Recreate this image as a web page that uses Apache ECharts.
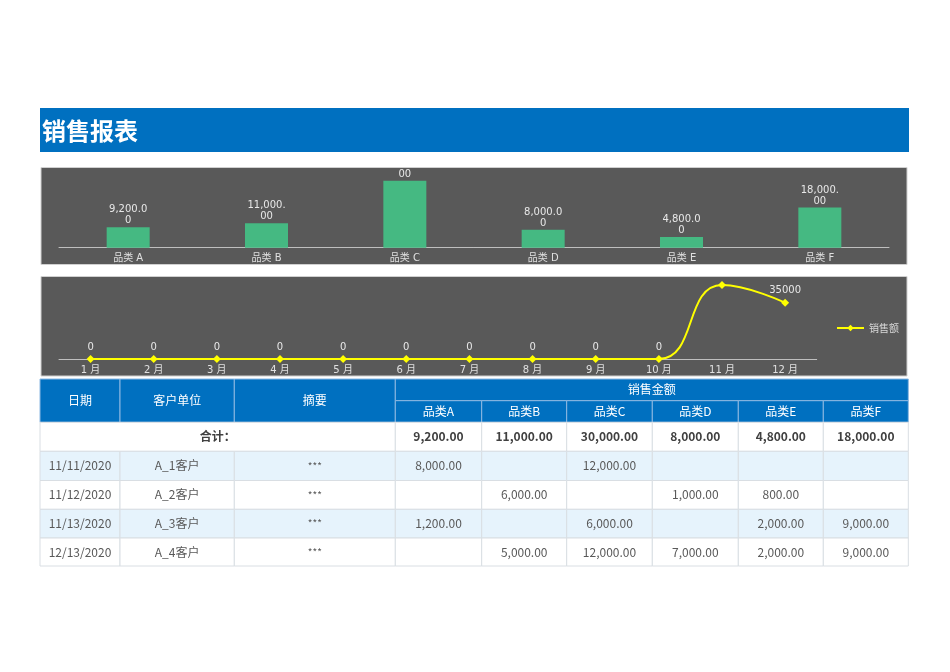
<!DOCTYPE html>
<html>
<head>
<meta charset="utf-8">
<script src="https://cdn.jsdelivr.net/npm/echarts@6/dist/echarts.min.js"></script>
<style>
html,body{margin:0;padding:0;background:#fff;}
#c{width:950px;height:672px;}
</style>
</head>
<body>
<div id="c"></div>
<script>
// ---- data ----
var title = '销售报表';
var barCategories = ['品类 A', '品类 B', '品类 C', '品类 D', '品类 E', '品类 F'];
var categoryTotals = [9200, 11000, 30000, 8000, 4800, 18000];
var months = ['1 月', '2 月', '3 月', '4 月', '5 月', '6 月', '7 月', '8 月', '9 月', '10 月', '11 月', '12 月'];
var monthlySales = [0, 0, 0, 0, 0, 0, 0, 0, 0, 0, 46000, 35000];
var lineSeriesName = '销售额';
var headerFixed = ['日期', '客户单位', '摘要'];
var headerGroup = '销售金额';
var tableCategories = ['品类A', '品类B', '品类C', '品类D', '品类E', '品类F'];
var totalLabel = '合计：';
var dates = ['11/11/2020', '11/12/2020', '11/13/2020', '12/13/2020'];
var customers = ['A_1客户', 'A_2客户', 'A_3客户', 'A_4客户'];
var summaries = ['***', '***', '***', '***'];
var rowA = [8000, null, 1200, null];
var rowB = [null, 6000, null, 5000];
var rowC = [12000, null, 6000, 12000];
var rowD = [null, 1000, null, 7000];
var rowE = [null, 800, 2000, 2000];
var rowF = [null, null, 9000, 9000];

// ---- helpers ----
function fmt2(v) {
  return v.toLocaleString('en-US', {minimumFractionDigits: 2, maximumFractionDigits: 2});
}
function wrap7(s) {
  var out = [];
  for (var i = 0; i < s.length; i += 7) out.push(s.slice(i, i + 7));
  return out.join('\n');
}

var CJK = '"Noto Sans CJK SC", "Microsoft YaHei", sans-serif';
var CHARTFONT = '"DejaVu Sans", "Noto Sans CJK SC", sans-serif';

var g = [];
// title bar
g.push({type: 'rect', z: -10, shape: {x: 40, y: 108, width: 869, height: 44}, style: {fill: '#0070C0'}});
g.push({type: 'text', z: -9, x: 42, y: 131, style: {text: title, fill: '#fff', font: 'bold 24px ' + CJK, textVerticalAlign: 'middle'}});
// chart panels
g.push({type: 'rect', z: -10, shape: {x: 41, y: 167.5, width: 866, height: 97}, style: {fill: '#595959', stroke: '#D0D0D0', lineWidth: 1}});
g.push({type: 'rect', z: -10, shape: {x: 41, y: 276.5, width: 866, height: 99.5}, style: {fill: '#595959', stroke: '#D0D0D0', lineWidth: 1}});
// cover gaps (clip labels outside panels)
g.push({type: 'rect', z: 100, shape: {x: 30, y: 152.5, width: 890, height: 14.5}, style: {fill: '#fff'}});
g.push({type: 'rect', z: 100, shape: {x: 30, y: 265, width: 890, height: 11}, style: {fill: '#fff'}});

// ---- table ----
var colX = [40, 120, 234.3, 395.3, 481.7, 566.7, 652.3, 738.3, 823.3, 908.3];
var rowY = [379, 400.7, 422.3, 451.3, 480.5, 509.3, 538, 566];
function cell(x0, x1, y0, y1, fill, stroke, text, color, font) {
  g.push({type: 'rect', z: -5, shape: {x: x0, y: y0, width: x1 - x0, height: y1 - y0}, style: {fill: fill, stroke: stroke, lineWidth: 1}});
  if (text !== null && text !== undefined && text !== '') {
    g.push({type: 'text', z: -4, x: (x0 + x1) / 2, y: (y0 + y1) / 2, style: {text: text, fill: color, font: font, textAlign: 'center', textVerticalAlign: 'middle'}});
  }
}
var HB = '#0070C0', HS = '#8DB8E2';
for (var i = 0; i < 3; i++) cell(colX[i], colX[i + 1], rowY[0], rowY[2], HB, HS, headerFixed[i], '#fff', '12px ' + CJK);
cell(colX[3], colX[9], rowY[0], rowY[1], HB, HS, headerGroup, '#fff', '12px ' + CJK);
for (var j = 0; j < 6; j++) cell(colX[3 + j], colX[4 + j], rowY[1], rowY[2], HB, HS, tableCategories[j], '#fff', '12px ' + CJK);
var GS = '#D9DEE3';
cell(colX[0], colX[3], rowY[2], rowY[3], '#fff', GS, totalLabel, '#404040', 'bold 12px ' + CJK);
for (var j = 0; j < 6; j++) cell(colX[3 + j], colX[4 + j], rowY[2], rowY[3], '#fff', GS, fmt2(categoryTotals[j]), '#404040', 'bold 12px ' + CJK);
var rowsByCat = [rowA, rowB, rowC, rowD, rowE, rowF];
for (var r = 0; r < dates.length; r++) {
  var bg = (r % 2 === 0) ? '#E6F3FC' : '#fff';
  var y0 = rowY[3 + r], y1 = rowY[4 + r];
  var f = '12px ' + CJK, tc = '#595959';
  cell(colX[0], colX[1], y0, y1, bg, GS, dates[r], tc, f);
  cell(colX[1], colX[2], y0, y1, bg, GS, customers[r], tc, f);
  cell(colX[2], colX[3], y0, y1, bg, GS, summaries[r], tc, '10px ' + CJK);
  for (var j = 0; j < 6; j++) {
    var v = rowsByCat[j][r];
    cell(colX[3 + j], colX[4 + j], y0, y1, bg, GS, v === null ? '' : fmt2(v), tc, f);
  }
}

var chart = echarts.init(document.getElementById('c'), null, {renderer: 'canvas'});
chart.setOption({
  backgroundColor: '#fff',
  animation: false,
  graphic: {elements: g},
  legend: {
    data: [lineSeriesName],
    left: 831, top: 318,
    itemWidth: 27, itemHeight: 8, itemGap: 4,
    textStyle: {color: '#D9D9D9', fontSize: 10, fontFamily: CJK}
  },
  grid: [
    {left: 59, top: 180.7, width: 830, height: 67},
    {left: 59, top: 285, width: 757.7, height: 74}
  ],
  xAxis: [
    {type: 'category', gridIndex: 0, data: barCategories,
     axisLine: {lineStyle: {color: '#BFBFBF', width: 1}}, axisTick: {show: false},
     axisLabel: {color: '#E0E0E0', fontSize: 10, fontFamily: CHARTFONT, margin: 6}},
    {type: 'category', gridIndex: 1, data: months,
     axisLine: {lineStyle: {color: '#BFBFBF', width: 1}}, axisTick: {show: false},
     axisLabel: {color: '#E0E0E0', fontSize: 10, fontFamily: CHARTFONT, margin: 6}}
  ],
  yAxis: [
    {type: 'value', gridIndex: 0, min: 0, max: 30000, show: false, splitLine: {show: false}},
    {type: 'value', gridIndex: 1, min: 0, max: 46000, show: false, splitLine: {show: false}}
  ],
  series: [
    {type: 'bar', xAxisIndex: 0, yAxisIndex: 0, data: categoryTotals, barWidth: 43,
     itemStyle: {color: '#45B982'},
     label: {show: true, position: 'top', distance: 1, color: '#E8E8E8', fontSize: 10, lineHeight: 11, fontFamily: CHARTFONT,
       formatter: function (p) { return wrap7(fmt2(p.value)); }}},
    {type: 'line', name: lineSeriesName, xAxisIndex: 1, yAxisIndex: 1, data: monthlySales, smooth: true, clip: false,
     symbol: 'diamond', symbolSize: 8, showAllSymbol: true, z: 5,
     lineStyle: {color: '#FFFF00', width: 2}, itemStyle: {color: '#FFFF00'},
     label: {show: true, position: 'top', distance: 3, color: '#E8E8E8', fontSize: 10, fontFamily: CHARTFONT}}
  ]
});
</script>
</body>
</html>
